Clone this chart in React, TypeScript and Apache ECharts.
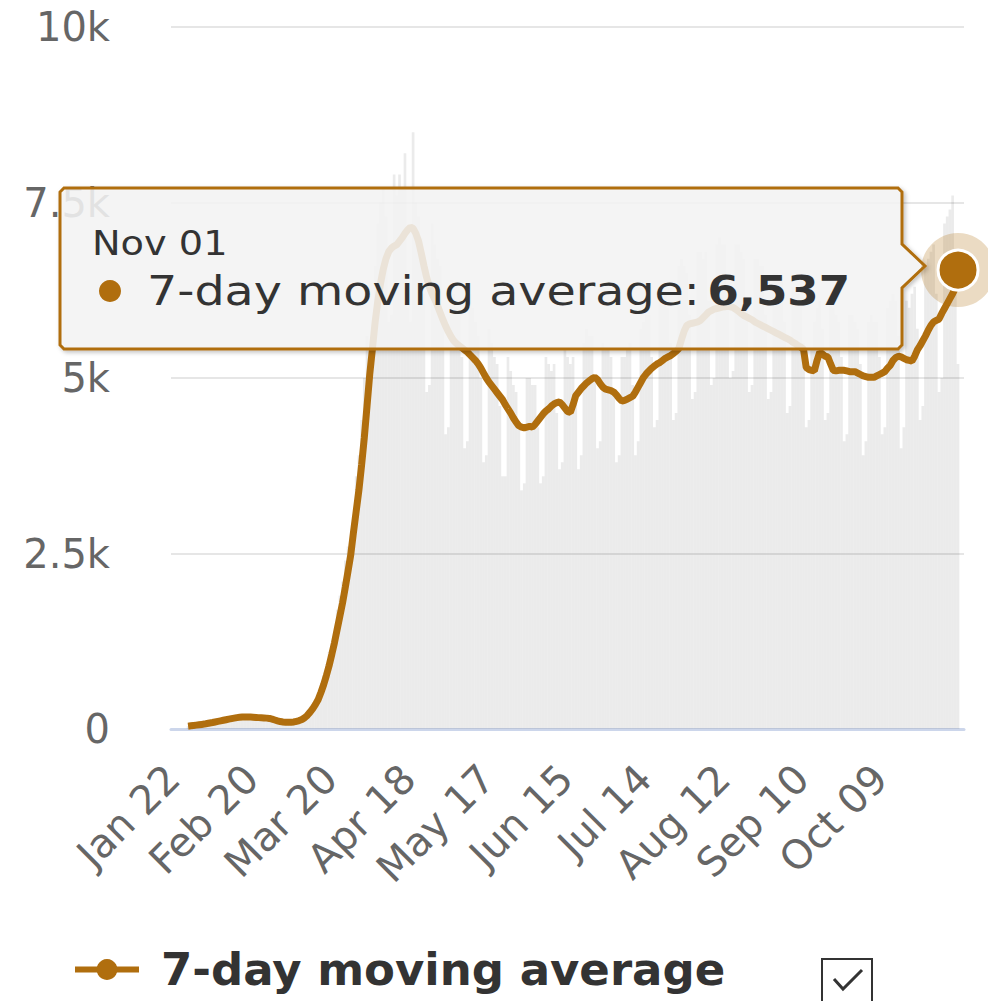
import React, { useEffect, useRef } from "react";
import * as echarts from "echarts";

// Day index 0 = Jan 22 ... 284 = Nov 01
const tickDays = [0, 29, 58, 87, 116, 145, 174, 203, 232, 261];
const tickLabels = ["Jan 22", "Feb 20", "Mar 20", "Apr 18", "May 17", "Jun 15", "Jul 14", "Aug 12", "Sep 10", "Oct 09"];
const yTicks = [0, 2500, 5000, 7500, 10000];
const yTickLabels = ["0", "2.5k", "5k", "7.5k", "10k"];
const seriesName = "7-day moving average";
const hoverLabel = "Nov 01";

const movingAvg = [
  40, 45, 50, 55, 60, 65, 70, 78, 85, 92,
  100, 108, 116, 124, 132, 140, 148, 155, 162, 166,
  170, 171, 171, 170, 168, 165, 162, 160, 158, 155,
  150, 140, 128, 116, 106, 100, 96, 95, 96, 100,
  110, 120, 135, 160, 195, 240, 290, 350, 420, 520,
  630, 760, 900, 1060, 1230, 1420, 1610, 1800, 2020, 2250,
  2480, 2800, 3100, 3400, 3760, 4150, 4600, 5050, 5420, 5800,
  6100, 6350, 6550, 6700, 6800, 6850, 6880, 6900, 6950, 7000,
  7060, 7110, 7150, 7130, 7060, 6950, 6780, 6600, 6430, 6300,
  6200, 6120, 6030, 5930, 5830, 5740, 5660, 5590, 5530, 5490,
  5460, 5430, 5400, 5370, 5330, 5290, 5250, 5200, 5140, 5070,
  5000, 4940, 4890, 4840, 4790, 4740, 4690, 4620, 4560, 4500,
  4430, 4370, 4320, 4300, 4290, 4300, 4310, 4300, 4340, 4390,
  4440, 4490, 4530, 4560, 4600, 4630, 4650, 4660, 4620, 4570,
  4520, 4510, 4620, 4750, 4800, 4850, 4890, 4930, 4960, 4990,
  5010, 4980, 4920, 4870, 4840, 4830, 4820, 4800, 4760, 4710,
  4670, 4680, 4700, 4720, 4740, 4800, 4870, 4940, 5010, 5060,
  5100, 5140, 5170, 5200, 5220, 5250, 5280, 5300, 5320, 5350,
  5380, 5420, 5550, 5670, 5750, 5770, 5780, 5790, 5800, 5820,
  5860, 5900, 5940, 5960, 5980, 5990, 6000, 6010, 6015, 6020,
  6015, 6005, 5980, 5950, 5920, 5890, 5870, 5850, 5830, 5800,
  5780, 5760, 5740, 5720, 5700, 5680, 5660, 5640, 5620, 5600,
  5580, 5560, 5540, 5510, 5490, 5460, 5440, 5410, 5150, 5120,
  5110, 5100, 5250, 5370, 5340, 5310, 5300, 5200, 5110, 5100,
  5110, 5110, 5110, 5100, 5090, 5090, 5090, 5070, 5050, 5030,
  5020, 5010, 5010, 5010, 5030, 5050, 5070, 5090, 5140, 5180,
  5250, 5290, 5310, 5300, 5280, 5260, 5250, 5240, 5310, 5400,
  5460, 5530, 5600, 5680, 5750, 5800, 5820, 5840, 5920, 5990,
  6060, 6130, 6200, 6280, 6537,
];

const daily = [
  40, 55, 50, 60, 35, 40, 65,
  80, 90, 85, 95, 70, 75, 110,
  130, 140, 150, 160, 130, 120, 170,
  190, 185, 180, 170, 140, 135, 165,
  170, 165, 160, 150, 120, 110, 120,
  110, 105, 100, 95, 85, 90, 130,
  150, 200, 260, 320, 280, 350, 520,
  620, 760, 920, 1100, 1150, 1300, 1700,
  1900, 2100, 2400, 2600, 2500, 2900, 3600,
  3900, 4400, 5000, 5600, 5200, 5500, 6600,
  7200, 7500, 7700, 7300, 5800, 5900, 7900,
  7600, 7900, 7700, 8200, 6000, 5800, 8500,
  7500, 7300, 7000, 6200, 4800, 4900, 7200,
  6900, 6700, 6600, 5800, 4200, 4300, 6400,
  6200, 6000, 5900, 5300, 4000, 4100, 6200,
  6000, 5800, 5600, 5000, 3800, 3900, 5700,
  5500, 5300, 5200, 4600, 3600, 3600, 5300,
  5100, 4900, 4800, 4300, 3400, 3500, 5000,
  5000, 4900, 4900, 4300, 3500, 3600, 5300,
  5200, 5100, 5200, 4500, 3700, 3800, 5400,
  5300, 5200, 5300, 4700, 3700, 3900, 5500,
  5700, 5600, 5600, 5000, 4000, 4100, 5500,
  5400, 5400, 5300, 4800, 3800, 3900, 5300,
  5300, 5400, 5500, 4900, 3900, 4100, 5700,
  5800, 5900, 5900, 5300, 4300, 4400, 6100,
  6100, 6200, 6000, 5500, 4400, 4500, 6600,
  6700, 6600, 6500, 5900, 4700, 4800, 6800,
  6800, 6700, 6800, 6100, 4900, 5000, 6900,
  7000, 6900, 6900, 6200, 5000, 5100, 6900,
  6900, 6800, 6700, 6000, 4800, 4900, 6700,
  6700, 6600, 6600, 5900, 4700, 4800, 6500,
  6500, 6400, 6400, 5800, 4500, 4600, 6300,
  6300, 6200, 6100, 5500, 4300, 4400, 5400,
  5800, 6000, 6100, 5700, 4400, 4500, 6100,
  6000, 5900, 5800, 5300, 4100, 4200, 5900,
  5900, 5800, 5700, 5200, 3900, 4100, 5800,
  5900, 5800, 5800, 5300, 4200, 4300, 6000,
  6100, 6200, 6100, 5600, 4000, 4300, 6100,
  6000, 6200, 6300, 5700, 4400, 4600, 6600,
  6700, 6800, 6900, 6200, 4800, 5000, 7200,
  7300, 7400, 7600, 6800, 5200,
];

const BROWN = "#b06e0e";
const FONT = "DejaVu Sans";

export default function App() {
  const ref = useRef<HTMLDivElement>(null);
  useEffect(() => {
    if (!ref.current) return;
    const chart = echarts.init(ref.current, undefined, { renderer: "svg" });
    const last = movingAvg.length - 1;
    const lastVal = movingAvg[last];
    chart.setOption({
      animation: false,
      grid: { left: 171, right: 24, top: 27, bottom: 272 },
      xAxis: {
        type: "value",
        min: -6.3,
        max: 286.2,
        splitLine: { show: false },
        axisLine: { show: true, lineStyle: { color: "#ccd6eb", width: 3 } },
        axisTick: { show: false },
        axisLabel: {
          customValues: tickDays,
          rotate: 45,
          margin: 27,
          padding: [0, 22, 0, 0],
          fontSize: 40,
          fontFamily: FONT,
          color: "#666666",
          formatter: (v: number) => {
            const k = tickDays.indexOf(Math.round(v));
            return k >= 0 ? tickLabels[k] : "";
          },
        },
      },
      yAxis: {
        type: "value",
        min: 0,
        max: 10000,
        interval: 2500,
        axisLine: { show: false },
        axisTick: { show: false },
        splitLine: { lineStyle: { color: "#e6e6e6", width: 2 } },
        axisLabel: {
          margin: 61,
          fontSize: 40,
          fontFamily: FONT,
          color: "#666666",
          formatter: (v: number) => {
            const k = yTicks.indexOf(v);
            return k >= 0 ? yTickLabels[k] : "";
          },
        },
      },
      legend: {
        data: [seriesName],
        left: 67,
        top: 942,
        itemWidth: 64,
        itemHeight: 26,
        lineStyle: { width: 6 },
        textStyle: { fontSize: 45, fontWeight: "bold", color: "#333333", fontFamily: FONT, padding: [0, 0, 0, 17] },
      },
      series: [
        {
          name: "Daily",
          type: "bar",
          data: daily.map((v, i) => [i, v]),
          barWidth: 2.7,
          itemStyle: { color: "rgba(0,0,0,0.08)" },
          silent: true,
          z: 1,
        },
        {
          name: seriesName,
          type: "line",
          data: movingAvg.map((v, i) => [i, v]),
          showSymbol: false,
          symbol: "circle",
          symbolSize: 20,
          itemStyle: { color: BROWN },
          lineStyle: { color: BROWN, width: 7 },
          z: 3,
        },
        {
          name: "halo",
          type: "scatter",
          data: [[last, lastVal]],
          symbolSize: 74,
          itemStyle: { color: "rgba(176,110,14,0.25)", opacity: 1 },
          silent: true,
          z: 20,
        },
        {
          name: "hover",
          type: "scatter",
          data: [[last, lastVal]],
          symbolSize: 40,
          itemStyle: { color: BROWN, borderColor: "#ffffff", borderWidth: 3, opacity: 1 },
          silent: true,
          z: 21,
        },
      ],
      graphic: [
        {
          type: "polygon",
          z: 10,
          shape: {
            points: [
              [64, 188], [898, 188], [902, 192], [902, 244], [925, 266], [902, 288],
              [902, 345], [898, 349], [64, 349], [60, 345], [60, 192],
            ],
          },
          style: {
            fill: "rgba(247,247,247,0.85)",
            stroke: BROWN,
            lineWidth: 3,
            shadowBlur: 4,
            shadowOffsetX: 2,
            shadowOffsetY: 2,
            shadowColor: "rgba(0,0,0,0.25)",
          },
        },
        {
          type: "text",
          z: 11,
          x: 92,
          y: 243,
          scaleX: 1.16,
          style: { text: hoverLabel, x: 0, y: 0, fontSize: 33, fontFamily: FONT, fill: "#333333", textVerticalAlign: "middle" },
        },
        {
          type: "circle",
          z: 11,
          shape: { cx: 110, cy: 291, r: 11 },
          style: { fill: BROWN },
        },
        {
          type: "text",
          z: 11,
          x: 147,
          y: 291,
          scaleX: 1.16,
          style: { text: seriesName + ": ", x: 0, y: 0, fontSize: 41, fontFamily: FONT, fill: "#333333", textVerticalAlign: "middle" },
        },
        {
          type: "text",
          z: 11,
          x: 850,
          y: 291,
          scaleX: 1.1,
          style: {
            text: lastVal.toLocaleString("en-US"),
            x: 0,
            y: 0,
            fontSize: 41,
            fontWeight: "bold",
            fontFamily: FONT,
            fill: "#333333",
            textAlign: "right",
            textVerticalAlign: "middle",
          },
        },
        {
          type: "rect",
          z: 11,
          shape: { x: 822, y: 959, width: 50, height: 50 },
          style: { fill: "#ffffff", stroke: "#333333", lineWidth: 2 },
        },
        {
          type: "polyline",
          z: 12,
          shape: { points: [[834, 979], [843, 989], [862, 970]] },
          style: { stroke: "#333333", lineWidth: 3, fill: null },
        },
      ],
    });
    return () => chart.dispose();
  }, []);
  return <div ref={ref} style={{ position: "absolute", left: 0, top: 0, width: 988, height: 1001 }} />;
}
